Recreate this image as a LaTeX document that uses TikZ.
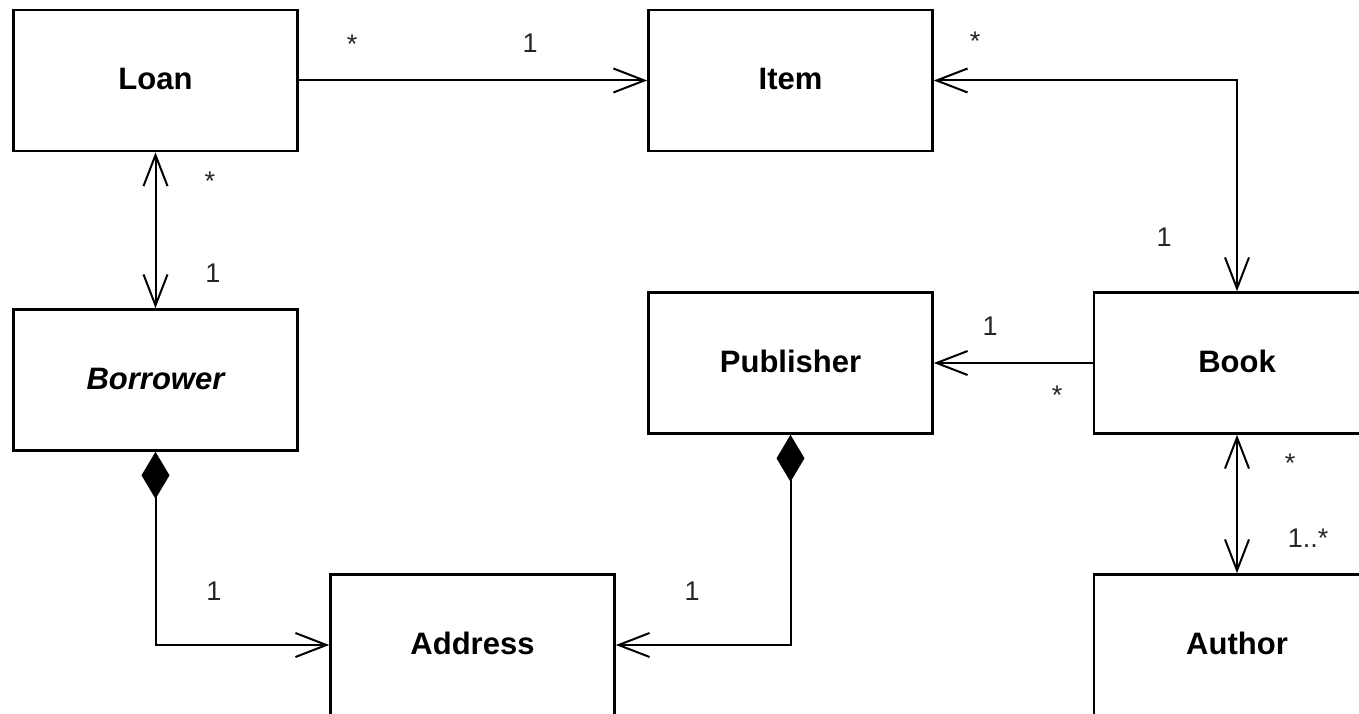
\documentclass[tikz,border=0pt]{standalone}
\usepackage{fontspec}
\setmainfont{Liberation Sans}
\usetikzlibrary{arrows.meta}

\tikzset{
  classbox/.style={draw=black, line width=2.6pt, fill=white, rectangle,
    minimum width=284pt, minimum height=141pt, inner sep=0pt,
    text height=22pt, text depth=4pt,
    font=\fontsize{31}{36}\selectfont\bfseries},
  mult/.style={anchor=base, inner sep=0pt, text=black!85,
    font=\fontsize{27}{32}\selectfont},
  assoc/.style={line width=2pt, -{Straight Barb[length=31pt,width=24pt]}},
  biassoc/.style={line width=2pt,
    {Straight Barb[length=31pt,width=24pt]}-{Straight Barb[length=31pt,width=24pt]}},
  compose/.style={line width=2pt,
    {Diamond[length=47pt,width=28pt,fill=black]}-{Straight Barb[length=31pt,width=24pt]}},
}

\begin{document}
\begin{tikzpicture}[x=1pt,y=-1pt]
  \useasboundingbox (0,0) rectangle (1359,714);
  \clip (0,0) rectangle (1359,714);
  \fill[white] (0,0) rectangle (1359,714);

  % classes
  \node[classbox] (loan)      at (155.5, 80.5) {Loan};
  \node[classbox] (item)      at (790.5, 80.5) {Item};
  \node[classbox] (borrower)  at (155.5, 380)  {\itshape Borrower};
  \node[classbox] (publisher) at (790.5, 363)  {Publisher};
  \node[classbox, minimum width=286pt] (book)   at (1237, 363) {Book};
  \node[classbox] (address)   at (472.5, 645)  {Address};
  \node[classbox, minimum width=286pt] (author) at (1237, 645) {Author};

  % associations
  \draw[assoc]   (loan.east) -- (item.west);
  \draw[biassoc] (item.east) -| (book.north);
  \draw[biassoc] (loan.south) -- (borrower.north);
  \draw[assoc]   (book.west) -- (publisher.east);
  \draw[biassoc] (book.south) -- (author.north);

  % compositions
  \draw[compose] (borrower.south) |- (address.west);
  \draw[compose] (publisher.south) |- (address.east);

  % multiplicities
  \node[mult] (m1)  at (352, 54)   {*};
  \node[mult] (m2)  at (530, 53)   {1};
  \node[mult] (m3)  at (975, 51)   {*};
  \node[mult] (m4)  at (1164, 246) {1};
  \node[mult] (m5)  at (210, 191)  {*};
  \node[mult] (m6)  at (213, 282)  {1};
  \node[mult] (m7)  at (990, 335)  {1};
  \node[mult] (m8)  at (1057, 404) {*};
  \node[mult] (m9)  at (1290, 472) {*};
  \node[mult] (m10) at (1308, 547) {1..*};
  \node[mult] (m11) at (214, 600)  {1};
  \node[mult] (m12) at (692, 600)  {1};
\end{tikzpicture}
\end{document}
